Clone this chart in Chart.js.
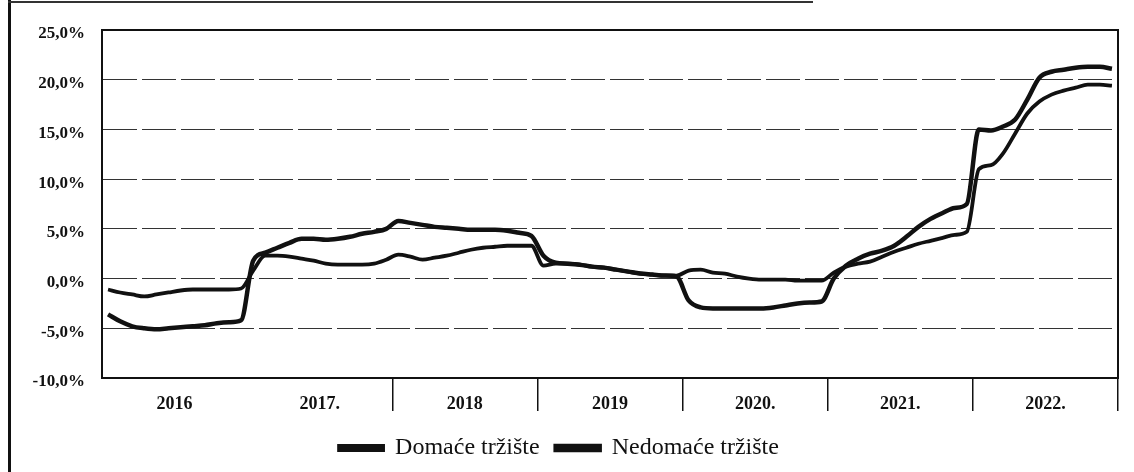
<!DOCTYPE html>
<html><head><meta charset="utf-8">
<script src="https://cdn.jsdelivr.net/npm/chart.js@4.4.1/dist/chart.umd.min.js"></script>
<style>
html,body{margin:0;padding:0;background:#fff;}
#wrap{position:relative;width:1134px;height:472px;overflow:hidden;background:#fff;}
#frameL{position:absolute;left:8px;top:0;width:3px;height:472px;background:#111;}
#frameT{position:absolute;left:8px;top:1px;width:805px;height:2px;background:#333;}
canvas{position:absolute;left:0;top:0;}
</style></head><body>
<div id="wrap"><canvas id="c" width="1134" height="472"></canvas><div id="frameL"></div><div id="frameT"></div></div>
<script>
// ---- data ----
const years = ['2016','2017','2018','2019','2020','2021','2022'];
const yearLabels = ['2016','2017.','2018','2019','2020.','2021.','2022.'];
const monthNums = ['01','02','03','04','05','06','07','08','09','10','11','12'];
const categories = years.flatMap(y => monthNums.map(m => m + '.' + y));

const domace = [
  -1.1, -1.4, -1.6, -1.8, -1.6, -1.4, -1.2, -1.1, -1.1, -1.1, -1.1, -1.0,
   0.8,  2.3,  2.3,  2.2,  2.0,  1.8,  1.5,  1.4,  1.4,  1.4,  1.5,  1.9,
   2.4,  2.2,  1.9,  2.1,  2.3,  2.6,  2.9,  3.1,  3.2,  3.3,  3.3,  3.3,
   1.3,  1.5,  1.5,  1.4,  1.2,  1.1,  0.9,  0.7,  0.5,  0.4,  0.3,  0.3,
   0.8,  0.9,  0.6,  0.5,  0.2,  0.0, -0.1, -0.1, -0.1, -0.2, -0.2, -0.2,
   0.6,  1.2,  1.5,  1.7,  2.2,  2.7,  3.1,  3.5,  3.8,  4.1,  4.4,  4.7,
  11.0, 11.4, 12.6, 14.6, 16.6, 17.8, 18.5, 18.9, 19.2, 19.5, 19.5, 19.4
];
const nedomace = [
  -3.6, -4.3, -4.8, -5.0, -5.1, -5.0, -4.9, -4.8, -4.7, -4.5, -4.4, -4.2,
   1.8,  2.6,  3.1,  3.6,  4.0,  4.0,  3.9,  4.0,  4.2,  4.5,  4.7,  5.0,
   5.8,  5.6,  5.4,  5.2,  5.1,  5.0,  4.9,  4.9,  4.9,  4.8,  4.6,  4.3,
   2.3,  1.6,  1.5,  1.4,  1.2,  1.1,  0.9,  0.7,  0.5,  0.4,  0.3,  0.2,
  -2.2, -2.9, -3.0, -3.0, -3.0, -3.0, -3.0, -2.9, -2.7, -2.5, -2.4, -2.3,
   0.0,  1.3,  2.0,  2.5,  2.8,  3.3,  4.2,  5.2,  6.0,  6.6,  7.1,  7.5,
  15.0, 14.9, 15.3, 16.0, 18.0, 20.2, 20.8, 21.0, 21.2, 21.3, 21.3, 21.1
];
const seriesNames = ['Domaće tržište', 'Nedomaće tržište'];
const yMin = -10, yMax = 25, yStep = 5;

// ---- chart ----
const FONT = "'Liberation Serif', 'Times New Roman', serif";
const ink = '#111';

const plotBorder = {
  id: 'plotBorder',
  afterDatasetsDraw(chart) {
    const {ctx, chartArea: a} = chart;
    ctx.save();
    ctx.strokeStyle = ink;
    ctx.lineWidth = 2;
    ctx.strokeRect(a.left, a.top, a.right - a.left, a.bottom - a.top);
    ctx.restore();
  }
};

new Chart(document.getElementById('c'), {
  type: 'line',
  data: {
    labels: categories,
    datasets: [
      { label: seriesNames[0], data: domace, borderColor: ink, backgroundColor: ink,
        borderWidth: 3.8, pointRadius: 0, cubicInterpolationMode: 'monotone', xAxisID: 'x' },
      { label: seriesNames[1], data: nedomace, borderColor: ink, backgroundColor: ink,
        borderWidth: 4.5, pointRadius: 0, cubicInterpolationMode: 'monotone', xAxisID: 'x' }
    ]
  },
  options: {
    responsive: false,
    animation: false,
    devicePixelRatio: 1,
    layout: { padding: { left: 0, right: 16, top: 30, bottom: 2 } },
    plugins: {
      tooltip: { enabled: false },
      legend: {
        position: 'bottom',
        labels: {
          boxWidth: 44, boxHeight: 4, padding: 16, color: ink,
          font: { family: FONT, size: 24 }
        }
      }
    },
    scales: {
      x: { type: 'category', offset: true, display: false },
      x2: {
        type: 'category', labels: yearLabels, offset: true, position: 'bottom',
        grid: {
          offset: true, drawOnChartArea: false, drawTicks: true, tickLength: 33,
          lineWidth: 1.5,
          color: (c) => (c.index <= 1 ? 'rgba(0,0,0,0)' : ink)
        },
        border: { display: false },
        ticks: { padding: -17, color: ink, maxRotation: 0, autoSkip: false,
          font: { family: FONT, size: 18, weight: 'bold' } },
        afterFit: (s) => { s.height = 42; }
      },
      y: {
        min: yMin, max: yMax,
        ticks: {
          stepSize: yStep, padding: 17, color: ink, labelOffset: 4,
          font: { family: FONT, size: 17, weight: 'bold' },
          callback: (v) => v.toFixed(1).replace('.', ',') + '%'
        },
        grid: { color: '#333', lineWidth: 1, drawTicks: false },
        border: { display: true, color: ink, width: 2, dash: [34, 5] },
        afterFit: (s) => { s.width = 102; }
      }
    }
  },
  plugins: [plotBorder]
});
</script>
</body></html>
